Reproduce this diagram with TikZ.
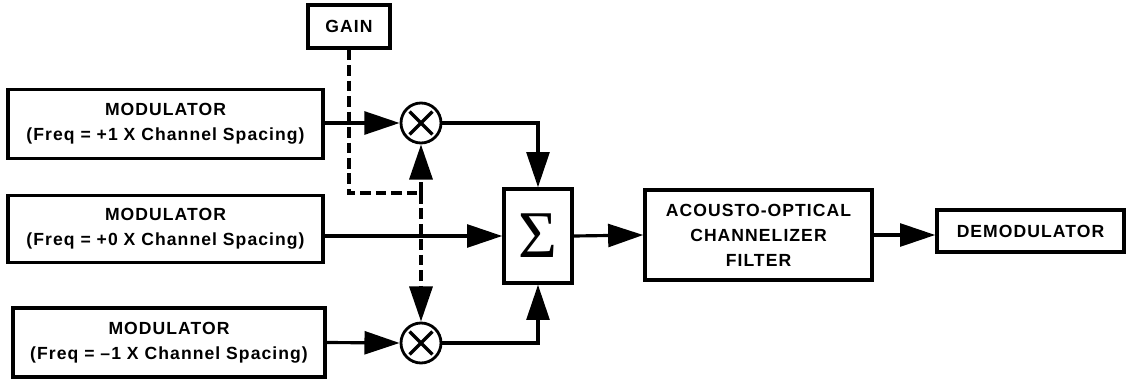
\documentclass[tikz,border=0pt]{standalone}
\usepackage{fontspec}
\setsansfont{Liberation Sans}[LetterSpace=6]
\newfontfamily\sigmafont{Liberation Serif}
\usetikzlibrary{positioning,arrows.meta,calc}

\tikzset{
  block/.style={draw,line width=2pt,align=center,inner sep=0pt,
    font=\sffamily\bfseries\fontsize{10}{14.2}\selectfont},
  mixer/.style={draw,circle,line width=1.6pt,minimum size=0.8cm,inner sep=0pt},
  sig/.style={line width=1.8pt,-{Triangle[length=20pt,width=13pt]}},
  gainline/.style={sig,line width=2.2pt,dash pattern=on 6pt off 2.8pt},
}

\begin{document}
\begin{tikzpicture}[x=0.02cm,y=-0.02cm]
  \useasboundingbox (0,0) rectangle (1126,379);
  % sources
  \node[block,minimum width=1.64cm,minimum height=0.86cm] (gain) at (349,26.5) {GAIN};
  \node[block,minimum width=6.3cm,minimum height=1.38cm] (mod1) at (165.5,124)
    {MODULATOR\\(Freq = +1 X Channel Spacing)};
  \node[block,minimum width=6.3cm,minimum height=1.34cm] (mod2) at (165.5,229)
    {MODULATOR\\(Freq = +0 X Channel Spacing)};
  \node[block,minimum width=6.24cm,minimum height=1.38cm] (mod3) at (169,342.5)
    {MODULATOR\\(Freq = --1 X Channel Spacing)};
  % mixers and summer
  \node[mixer] (mult1) at (421,123) {};
  \node[mixer] (mult2) at (421,343) {};
  \foreach \m in {mult1,mult2} {
    \draw[line width=2pt] ($(\m)+(-6.5pt,-6.5pt)$) -- ($(\m)+(6.5pt,6.5pt)$);
    \draw[line width=2pt] ($(\m)+(-6.5pt,6.5pt)$) -- ($(\m)+(6.5pt,-6.5pt)$);
  }
  \node[block,minimum width=1.36cm,minimum height=1.88cm,
    font=\sigmafont\fontsize{38}{38}\selectfont] (sum) at (538,236) {Σ};
  % filter chain
  \node[block,minimum width=4.54cm,minimum height=1.8cm] (filt) at (758.5,235)
    {ACOUSTO-OPTICAL\\CHANNELIZER\\FILTER};
  \node[block,minimum width=3.74cm,minimum height=0.84cm] (demod) at (1030.5,231)
    {DEMODULATOR};

  \draw[sig] (mod1.east |- mult1.west) -- (mult1.west);
  \draw[sig] (mod2.east |- sum.west) -- (sum.west);
  \draw[sig] (mod3.east) -- (mult2.west);
  \draw[sig] (mult1.east) -| (sum.north);
  \draw[sig] (mult2.east) -| (sum.south);
  \draw[sig] (sum.east) -- (filt.west);
  \draw[sig] (filt.east) -- (filt.east -| demod.west);

  % gain control
  \coordinate (tap) at (421,193);
  \draw[gainline,-] (gain.south) |- (tap);
  \draw[gainline] (tap) -- (mult1.south);
  \draw[gainline] (tap) -- (mult2.north);
\end{tikzpicture}
\end{document}
